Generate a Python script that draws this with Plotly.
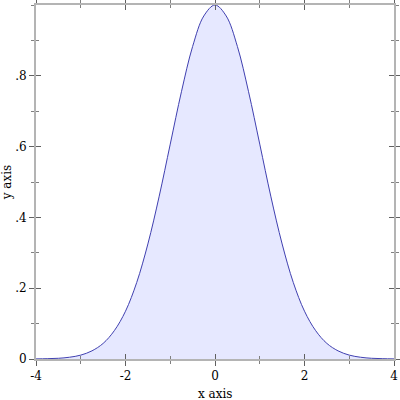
import plotly.graph_objects as go

x_vals = [-4, -3.75, -3.5, -3.25, -3, -2.75, -2.5, -2.25, -2, -1.75, -1.5, -1.25, -1,
          -0.75, -0.5, -0.25, 0, 0.25, 0.5, 0.75, 1, 1.25, 1.5, 1.75, 2, 2.25, 2.5,
          2.75, 3, 3.25, 3.5, 3.75, 4]
y_vals = [0.0003, 0.0009, 0.002, 0.005, 0.011, 0.023, 0.044, 0.080, 0.135, 0.216,
          0.325, 0.458, 0.607, 0.755, 0.883, 0.969, 1.0, 0.969, 0.883, 0.755, 0.607,
          0.458, 0.325, 0.216, 0.135, 0.080, 0.044, 0.023, 0.011, 0.005, 0.002,
          0.0009, 0.0003]

x_ticks = [-4, -2, 0, 2, 4]
x_ticktext = ["-4", "-2", "0", "2", "4"]
y_ticks = [0, 0.2, 0.4, 0.6, 0.8]
y_ticktext = ["0", ".2", ".4", ".6", ".8"]

font = dict(family="DejaVu Serif", size=12, color="black")

fig = go.Figure()
fig.add_trace(go.Scatter(
    x=x_vals, y=y_vals, mode="lines",
    line=dict(color="#4040B0", width=1, shape="spline"),
    fill="tozeroy", fillcolor="#E6E8FF",
    showlegend=False, hoverinfo="skip",
))
# invisible trace to activate overlay axes
fig.add_trace(go.Scatter(x=[x_vals[0]], y=[y_vals[0]], xaxis="x2", yaxis="y2",
                         mode="markers", marker=dict(opacity=0), showlegend=False,
                         hoverinfo="skip"))

axis_common = dict(showgrid=False, zeroline=False, showline=True, linecolor="#B4B4B4",
                   linewidth=2, mirror="ticks", tickcolor="#606060", tickwidth=1,
                   automargin=False)

fig.update_layout(
    width=400, height=400,
    margin=dict(l=36, r=6, t=5, b=41),
    paper_bgcolor="white", plot_bgcolor="white",
    font=font,
    xaxis=dict(range=[-4, 4], tickvals=x_ticks, ticktext=x_ticktext,
               ticks="outside", ticklen=5,
               minor=dict(dtick=1, tick0=-4, ticks="outside", ticklen=3,
                          tickcolor="#808080", showgrid=False),
               **axis_common),
    yaxis=dict(range=[0, 1.0], tickvals=y_ticks, ticktext=y_ticktext,
               ticks="outside", ticklen=5,
               minor=dict(dtick=0.1, tick0=0, ticks="outside", ticklen=3,
                          tickcolor="#808080", showgrid=False),
               title=dict(text="y axis", font=font),
               **axis_common),
    xaxis2=dict(overlaying="x", matches="x", range=[-4, 4], tickvals=x_ticks,
                showticklabels=False, ticks="inside", ticklen=5,
                minor=dict(dtick=1, tick0=-4, ticks="inside", ticklen=3,
                           tickcolor="#808080", showgrid=False),
                **axis_common),
    yaxis2=dict(overlaying="y", matches="y", range=[0, 1.0], tickvals=y_ticks,
                showticklabels=False, ticks="inside", ticklen=5,
                minor=dict(dtick=0.1, tick0=0, ticks="inside", ticklen=3,
                           tickcolor="#808080", showgrid=False),
                **axis_common),
    annotations=[dict(text="x axis", xref="paper", yref="paper", x=0.5, y=0,
                      xanchor="center", yanchor="top", yshift=-26, showarrow=False,
                      font=font)],
)

fig.write_html("out.html")
